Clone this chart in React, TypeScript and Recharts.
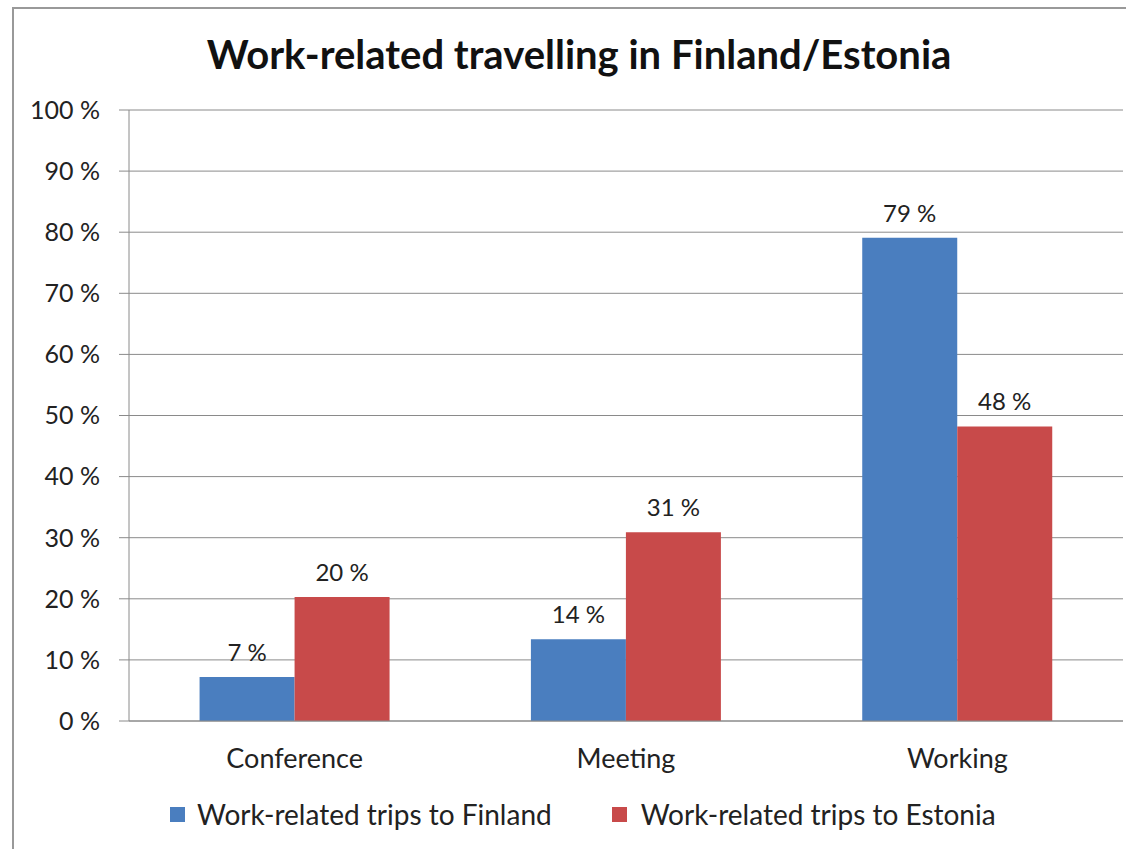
import { BarChart, Bar, XAxis, YAxis, CartesianGrid, LabelList } from "recharts";

const categories = ["Conference", "Meeting", "Working"];
const finlandValues = [7.2, 13.4, 79.1];
const estoniaValues = [20.3, 30.9, 48.2];
const finlandLabels = ["7 %", "14 %", "79 %"];
const estoniaLabels = ["20 %", "31 %", "48 %"];
const yTicks = [0, 10, 20, 30, 40, 50, 60, 70, 80, 90, 100];

const FINLAND = "#4a7ebf";
const ESTONIA = "#c84a4a";
const GRID = "#8a8a8a";
const FONT = "Lato, 'Open Sans', sans-serif";

const data = categories.map((name, i) => ({
  name,
  finland: finlandValues[i],
  estonia: estoniaValues[i],
  finLabel: finlandLabels[i],
  estLabel: estoniaLabels[i],
}));

export default function App() {
  return (
    <div
      style={{
        position: "absolute",
        left: 0,
        top: 0,
        width: 1126,
        height: 849,
        overflow: "hidden",
        background: "#fff",
        fontFamily: FONT,
      }}
    >
      {/* outer frame, cropped on right and bottom like the reference */}
      <div
        style={{
          position: "absolute",
          left: 12,
          top: 7,
          width: 1130,
          height: 870,
          border: "2px solid #999",
          boxSizing: "border-box",
        }}
      />
      <div
        style={{
          position: "absolute",
          left: 0,
          width: 1158,
          top: 29,
          textAlign: "center",
          fontSize: 40,
          lineHeight: "50px",
          fontWeight: 700,
          color: "#111",
        }}
      >
        Work-related travelling in Finland/Estonia
      </div>

      <div style={{ position: "absolute", left: 0, top: 0 }}>
        <BarChart
          width={1126}
          height={849}
          data={data}
          margin={{ top: 110, right: 3, left: 0, bottom: 68 }}
          barCategoryGap="21.3%"
          barGap={0}
        >
          <CartesianGrid vertical={false} stroke={GRID} strokeWidth={1} />
          <XAxis
            dataKey="name"
            height={60}
            tickLine={false}
            axisLine={{ stroke: GRID }}
            tick={{ fontSize: 27, fill: "#222", fontFamily: FONT }}
            tickMargin={22}
          />
          <YAxis
            width={129}
            domain={[0, 100]}
            ticks={yTicks}
            interval={0}
            tickFormatter={(v) => `${v} %`}
            tickSize={10}
            tickMargin={19}
            axisLine={{ stroke: GRID }}
            tickLine={{ stroke: GRID }}
            tick={{ fontSize: 25, fill: "#222", fontFamily: FONT }}
          />
          <Bar dataKey="finland" fill={FINLAND} isAnimationActive={false}>
            <LabelList
              dataKey="finLabel"
              position="top"
              offset={16}
              style={{ fontSize: 24, fill: "#222", fontFamily: FONT }}
            />
          </Bar>
          <Bar dataKey="estonia" fill={ESTONIA} isAnimationActive={false}>
            <LabelList
              dataKey="estLabel"
              position="top"
              offset={16}
              style={{ fontSize: 24, fill: "#222", fontFamily: FONT }}
            />
          </Bar>
        </BarChart>
      </div>

      {/* legend */}
      <div
        style={{
          position: "absolute",
          left: 170,
          top: 797,
          display: "flex",
          alignItems: "center",
          fontSize: 28,
          color: "#222",
        }}
      >
        <span style={{ width: 15, height: 15, background: FINLAND, marginRight: 12 }} />
        <span style={{ marginRight: 60 }}>Work-related trips to Finland</span>
        <span style={{ width: 15, height: 15, background: ESTONIA, marginRight: 14 }} />
        <span>Work-related trips to Estonia</span>
      </div>
    </div>
  );
}
